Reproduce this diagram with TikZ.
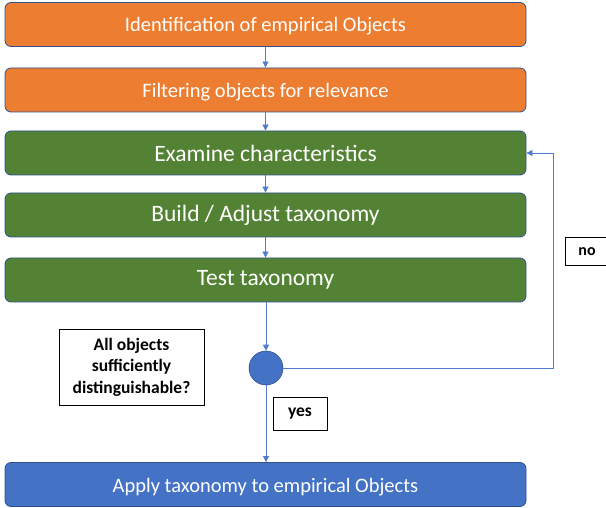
\documentclass[tikz,border=0pt]{standalone}
\usepackage{fontspec}
\setmainfont{Carlito}
\usetikzlibrary{arrows.meta}
\definecolor{boxorange}{HTML}{ED7D31}
\definecolor{boxgreen}{HTML}{548235}
\definecolor{boxblue}{HTML}{4472C4}
\definecolor{edgeblue}{HTML}{2F528F}
\definecolor{flowline}{HTML}{4F7BD0}
\tikzset{
  stepbox/.style={draw=edgeblue, line width=0.8pt, rounded corners=6pt,
    minimum width=521pt, minimum height=44pt, text=white, inner sep=0pt,
    font=\fontsize{20.5}{24}\selectfont},
  greenstep/.style={stepbox, fill=boxgreen, font=\fontsize{23.5}{28}\selectfont},
  note/.style={draw=black, line width=0.9pt, fill=white, inner sep=0pt,
    font=\bfseries\fontsize{17.5}{21.5}\selectfont, align=center},
  flow/.style={draw=flowline, line width=0.7pt, -{Triangle[length=6pt,width=6pt]}},
}
\begin{document}
\begin{tikzpicture}[x=1pt,y=-1pt]
  \useasboundingbox (0,0) rectangle (606,508);
  \node[stepbox, fill=boxorange] (s1) at (265.5,24.5) {};
  \node[white, font=\fontsize{20.5}{24}\selectfont] (t1) at (265.5,26.5) {Identification of empirical Objects};
  \node[stepbox, fill=boxorange] (s2) at (265.5,90) {};
  \node[white, font=\fontsize{20.5}{24}\selectfont] (t2) at (265.5,92) {Filtering objects for relevance};
  \node[greenstep] (s3) at (265.5,153) {Examine characteristics};
  \node[greenstep] (s4) at (265.5,215) {Build / Adjust taxonomy};
  \node[greenstep] (s5) at (265.5,280) {Test taxonomy};
  \node[circle, fill=boxblue, draw=edgeblue, line width=0.6pt, minimum size=34pt, inner sep=0pt] (dec) at (266,368) {};
  \node[stepbox, fill=boxblue] (s6) at (265.5,484.5) {};
  \node[white, font=\fontsize{20.5}{24}\selectfont] (t6) at (265.5,487) {Apply taxonomy to empirical Objects};
  \node[note, minimum width=145pt, minimum height=76pt] (q) at (131.5,367) {All objects\\sufficiently\\distinguishable?};
  \node[note, minimum width=54pt, minimum height=33pt] (yes) at (300,413.5) {yes};
  \node[note, font=\bfseries\fontsize{16}{19}\selectfont, minimum width=44pt, minimum height=28pt] (no) at (587,251.5) {no};
  \coordinate (loopbottom) at (553,368);
  \coordinate (looptop) at (553,153);

  \draw[flow] (s1) -- (s2);
  \draw[flow] (s2) -- (s3);
  \draw[flow] (s3) -- (s4);
  \draw[flow] (s4) -- (s5);
  \draw[flow] (s5.south -| dec) -- (dec);
  \draw[flow] (dec) -- (s6.north -| dec);
  \draw[flow] (dec.east) -- (loopbottom) -- (looptop) -- (s3.east);
\end{tikzpicture}
\end{document}
